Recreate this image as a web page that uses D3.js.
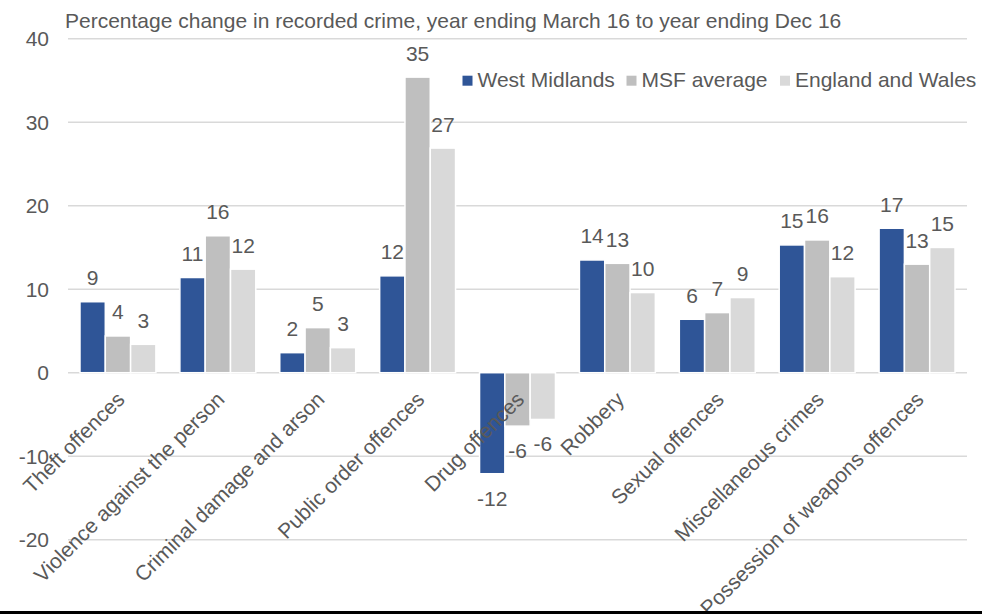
<!DOCTYPE html>
<html>
<head>
<meta charset="UTF-8">
<script src="https://d3js.org/d3.v7.min.js"></script>
<style>
  body { margin: 0; background: #fff; }
  text { font-family: "Liberation Sans", Arial, sans-serif; fill: #595959; }
</style>
</head>
<body>
<svg id="canvas"></svg>
<script>
  width = 982;
  height = 614;
  margin = {left: 68, right: 15, top: 38.7, bottom: 74.3};

  categories = ["Theft offences", "Violence against the person", "Criminal damage and arson",
    "Public order offences", "Drug offences", "Robbery", "Sexual offences",
    "Miscellaneous crimes", "Possession of weapons offences"];
  seriesNames = ["West Midlands", "MSF average", "England and Wales"];
  westMidlands = [8.5, 11.4, 2.4, 11.6, -12.1, 13.5, 6.4, 15.3, 17.3];
  msfAverage = [4.4, 16.4, 5.4, 35.4, -6.4, 13.1, 7.2, 15.9, 13.0];
  englandWales = [3.4, 12.4, 3.0, 26.9, -5.6, 9.6, 9.0, 11.5, 15.0];
  yTicks = [-20, -10, 0, 10, 20, 30, 40];
  colors = ["#2F5597", "#BFBFBF", "#D9D9D9"];

  series = [westMidlands, msfAverage, englandWales];
  fs = "21px";

  canvas = d3.select("#canvas")
    .attr("width", width)
    .attr("height", height);

  chart = canvas.append("g")
    .attr("transform", "translate(" + margin.left + "," + margin.top + ")");

  w = width - margin.left - margin.right;
  h = height - margin.top - margin.bottom;

  x = d3.scaleBand().domain(categories).range([0, w]).paddingInner(0.24).paddingOuter(0.12);
  xs = d3.scaleBand().domain(seriesNames).range([0, x.bandwidth()]);
  y = d3.scaleLinear().domain([-20, 40]).range([h, 0]);

  // gridlines
  chart.append("g")
    .selectAll("line")
    .data(yTicks).enter()
    .append("line")
      .attr("x1", 0).attr("x2", w)
      .attr("y1", d => y(d)).attr("y2", d => y(d))
      .attr("stroke", "#D9D9D9").attr("stroke-width", 1.5);

  // y tick labels
  chart.append("g")
    .selectAll("text")
    .data(yTicks).enter()
    .append("text")
      .attr("x", -19)
      .attr("y", d => y(d))
      .attr("dy", "0.35em")
      .attr("text-anchor", "end")
      .style("font-size", fs)
      .text(d => d);

  // bars
  rows = [];
  series.forEach((s, si) => s.forEach((v, ci) => rows.push({cat: categories[ci], name: seriesNames[si], v: v, si: si})));

  chart.append("g")
    .selectAll("rect")
    .data(rows).enter()
    .append("rect")
      .attr("x", d => x(d.cat) + xs(d.name))
      .attr("width", xs.bandwidth())
      .attr("y", d => y(Math.max(0, d.v)))
      .attr("height", d => Math.abs(y(d.v) - y(0)))
      .attr("fill", d => colors[d.si])
      .attr("stroke", "#fff").attr("stroke-width", 1.5);

  // value labels
  chart.append("g")
    .selectAll("text")
    .data(rows).enter()
    .append("text")
      .attr("x", d => x(d.cat) + xs(d.name) + xs.bandwidth() / 2)
      .attr("y", d => d.v >= 0 ? y(d.v) - 16.5 : y(d.v) + 32)
      .attr("text-anchor", "middle")
      .style("font-size", fs)
      .text(d => Math.round(d.v));

  // category labels
  chart.append("g")
    .selectAll("text")
    .data(categories).enter()
    .append("text")
      .attr("transform", d => "translate(" + (x(d) + x.bandwidth() / 2 + 8) + "," + (y(0) + 28) + ") rotate(-45)")
      .attr("text-anchor", "end")
      .style("font-size", fs)
      .text(d => d);

  // title
  canvas.append("text")
    .attr("x", 65).attr("y", 28)
    .style("font-size", fs)
    .text("Percentage change in recorded crime, year ending March 16 to year ending Dec 16");

  // legend
  legend = canvas.append("g").attr("transform", "translate(462.5,75.7)");
  legendX = [0, 164, 317.5];
  seriesNames.forEach((n, i) => {
    legend.append("rect").attr("x", legendX[i]).attr("y", 0).attr("width", 10).attr("height", 10).attr("fill", colors[i]);
    legend.append("text").attr("x", legendX[i] + 15).attr("y", 11.5).style("font-size", fs).text(n);
  });

  // bottom frame line
  canvas.append("rect").attr("x", 0).attr("y", 611).attr("width", width).attr("height", 3).attr("fill", "#000");
</script>
</body>
</html>
